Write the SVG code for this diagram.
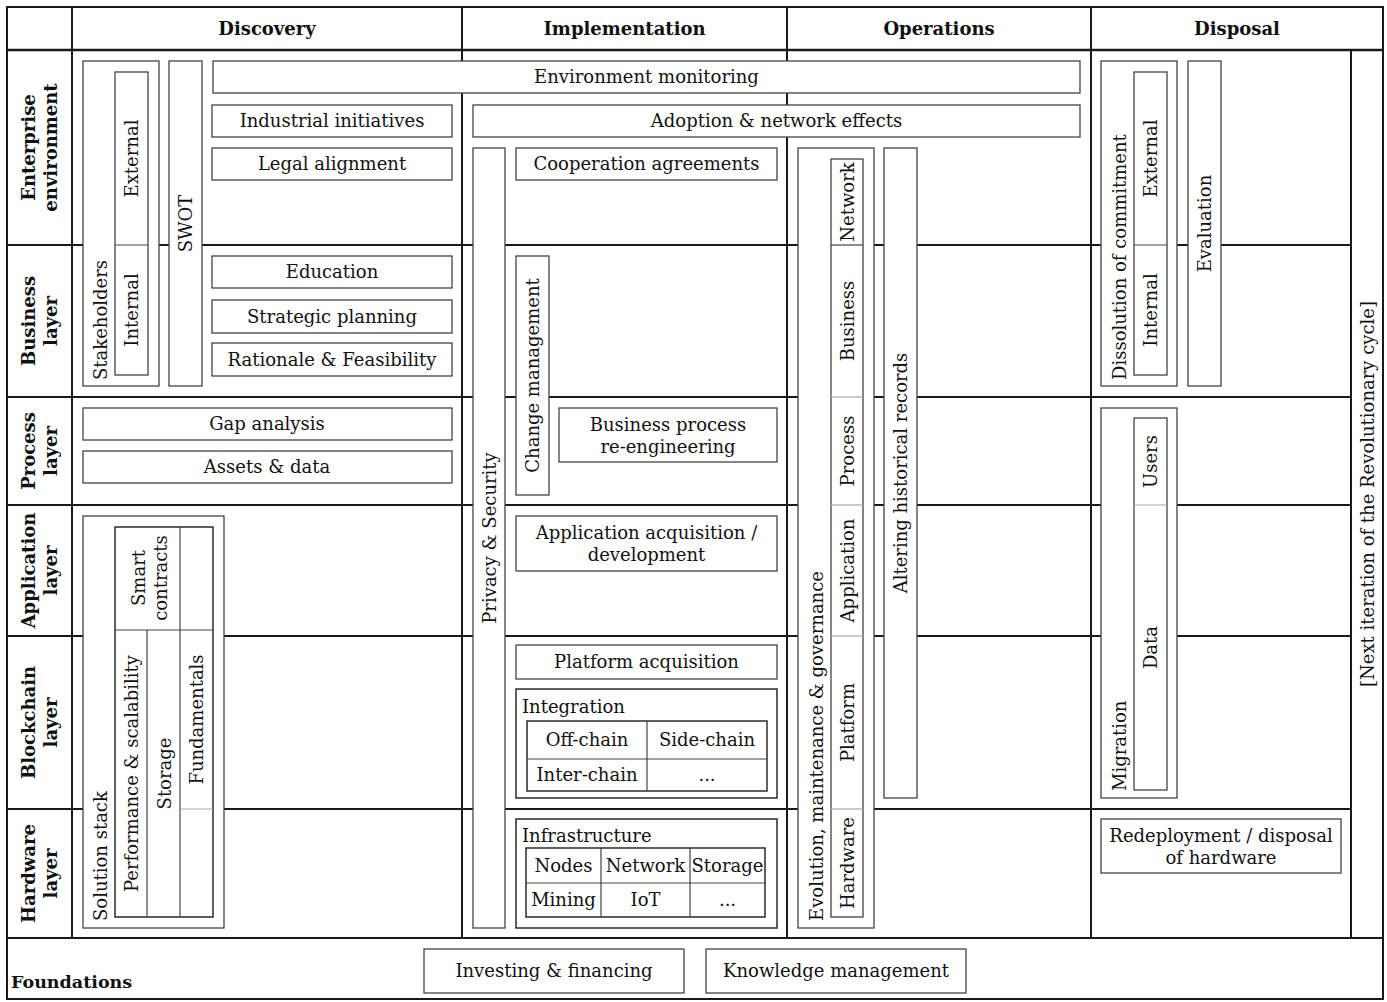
<svg xmlns="http://www.w3.org/2000/svg" width="1387" height="1002" viewBox="0 0 1387 1002">
<style>
.grid{stroke:#1a1a1a;stroke-width:2;fill:none}
.hd{stroke-width:2.6}
.box{fill:#fff;stroke:#444;stroke-width:1.3}
.dk{stroke:#2a2a2a;stroke-width:1.5}
.dv{stroke:#444;stroke-width:1.2}
.lt{stroke:#aaa;stroke-width:1.2}
text{font-family:"DejaVu Serif","Liberation Serif",serif;font-size:18px;fill:#111}
.b{font-weight:bold}
.h{font-weight:bold;font-size:18px}
.f{font-weight:bold;font-size:17.5px}
.c{text-anchor:middle}
</style>
<rect width="1387" height="1002" fill="#fff"/>
<g id="grid" class="grid">
<rect x="7" y="7" width="1376" height="992"/>
<line class="hd" x1="7" y1="50" x2="1383" y2="50"/>
<line x1="7" y1="245" x2="1351" y2="245"/>
<line x1="7" y1="397" x2="1351" y2="397"/>
<line x1="7" y1="505" x2="1351" y2="505"/>
<line x1="7" y1="636" x2="1351" y2="636"/>
<line x1="7" y1="809" x2="1351" y2="809"/>
<line x1="7" y1="938" x2="1383" y2="938"/>
<line x1="72" y1="7" x2="72" y2="938"/>
<line x1="462" y1="7" x2="462" y2="938"/>
<line x1="787" y1="7" x2="787" y2="938"/>
<line x1="1091" y1="7" x2="1091" y2="938"/>
<line x1="1351" y1="50" x2="1351" y2="938"/>
</g>
<g id="headers">
<text class="h c" x="267" y="35">Discovery</text>
<text class="h c" x="624.5" y="35">Implementation</text>
<text class="h c" x="939" y="35">Operations</text>
<text class="h c" x="1237" y="35">Disposal</text>
</g>
<g id="row-labels" class="b c">
<text transform="translate(35,147.5) rotate(-90)">Enterprise</text>
<text transform="translate(57,147.5) rotate(-90)">environment</text>
<text transform="translate(35,321) rotate(-90)">Business</text>
<text transform="translate(57,321) rotate(-90)">layer</text>
<text transform="translate(35,451) rotate(-90)">Process</text>
<text transform="translate(57,451) rotate(-90)">layer</text>
<text transform="translate(35,570.5) rotate(-90)">Application</text>
<text transform="translate(57,570.5) rotate(-90)">layer</text>
<text transform="translate(35,722.5) rotate(-90)">Blockchain</text>
<text transform="translate(57,722.5) rotate(-90)">layer</text>
<text transform="translate(35,873.5) rotate(-90)">Hardware</text>
<text transform="translate(57,873.5) rotate(-90)">layer</text>
</g>
<g id="foundations-label"><text class="f" x="11" y="988">Foundations</text></g>

<!-- Discovery -->
<g id="stakeholders">
<rect class="box" x="83" y="61" width="76" height="325"/>
<rect class="box" x="115" y="72" width="33" height="303"/>
<line class="dv" x1="115" y1="245" x2="148" y2="245"/>
<text transform="translate(107,380) rotate(-90)">Stakeholders</text>
<text class="c" transform="translate(138,158.5) rotate(-90)">External</text>
<text class="c" transform="translate(138,310) rotate(-90)">Internal</text>
</g>
<g id="swot">
<rect class="box" x="169" y="61" width="33" height="325"/>
<text class="c" transform="translate(192,223.5) rotate(-90)">SWOT</text>
</g>
<g id="environment-monitoring">
<rect class="box" x="213" y="61" width="867" height="32"/>
<text class="c" x="646.5" y="83">Environment monitoring</text>
</g>
<g id="industrial-initiatives">
<rect class="box" x="212" y="105" width="240" height="32"/>
<text class="c" x="332" y="127">Industrial initiatives</text>
</g>
<g id="legal-alignment">
<rect class="box" x="212" y="148" width="240" height="32"/>
<text class="c" x="332" y="170">Legal alignment</text>
</g>
<g id="education">
<rect class="box" x="212" y="256" width="240" height="32"/>
<text class="c" x="332" y="278">Education</text>
</g>
<g id="strategic-planning">
<rect class="box" x="212" y="300" width="240" height="33"/>
<text class="c" x="332" y="322.5">Strategic planning</text>
</g>
<g id="rationale-feasibility">
<rect class="box" x="212" y="343" width="240" height="33"/>
<text class="c" x="332" y="365.5">Rationale &amp; Feasibility</text>
</g>
<g id="gap-analysis">
<rect class="box" x="83" y="408" width="369" height="32"/>
<text class="c" x="267" y="430">Gap analysis</text>
</g>
<g id="assets-data">
<rect class="box" x="83" y="451" width="369" height="32"/>
<text class="c" x="267" y="473">Assets &amp; data</text>
</g>
<g id="solution-stack">
<rect class="box" x="83" y="516" width="141" height="412"/>
<rect class="box dk" x="115" y="527" width="98" height="390"/>
<line class="dv" x1="115" y1="630" x2="213" y2="630"/>
<line class="dv" x1="147" y1="630" x2="147" y2="917"/>
<line class="dv" x1="180" y1="527" x2="180" y2="917"/>
<line class="lt" x1="180" y1="809" x2="213" y2="809"/>
<text transform="translate(107,921) rotate(-90)">Solution stack</text>
<text class="c" transform="translate(145,578) rotate(-90)">Smart</text>
<text class="c" transform="translate(167,578) rotate(-90)">contracts</text>
<text class="c" transform="translate(138,773.5) rotate(-90)">Performance &amp; scalability</text>
<text class="c" transform="translate(170.5,773.5) rotate(-90)">Storage</text>
<text class="c" transform="translate(203,719.5) rotate(-90)">Fundamentals</text>
</g>

<!-- Implementation -->
<g id="adoption">
<rect class="box" x="473" y="105" width="607" height="32"/>
<text class="c" x="776.5" y="127">Adoption &amp; network effects</text>
</g>
<g id="privacy-security">
<rect class="box" x="473" y="148" width="32" height="780"/>
<text class="c" transform="translate(495.5,538) rotate(-90)">Privacy &amp; Security</text>
</g>
<g id="cooperation-agreements">
<rect class="box" x="516" y="148" width="261" height="32"/>
<text class="c" x="646.5" y="170">Cooperation agreements</text>
</g>
<g id="change-management">
<rect class="box" x="516" y="256" width="33" height="239"/>
<text class="c" transform="translate(539,375.5) rotate(-90)">Change management</text>
</g>
<g id="bpr">
<rect class="box" x="559" y="408" width="218" height="54"/>
<text class="c" x="668" y="431">Business process</text>
<text class="c" x="668" y="453">re-engineering</text>
</g>
<g id="application-acquisition">
<rect class="box" x="516" y="516" width="261" height="55"/>
<text class="c" x="646.5" y="539">Application acquisition /</text>
<text class="c" x="646.5" y="561">development</text>
</g>
<g id="platform-acquisition">
<rect class="box" x="516" y="645" width="261" height="34"/>
<text class="c" x="646.5" y="668">Platform acquisition</text>
</g>
<g id="integration">
<rect class="box dk" x="516" y="689" width="261" height="109"/>
<text x="522" y="713">Integration</text>
<rect class="box dk" x="527" y="721" width="240" height="70"/>
<line class="dv" x1="527" y1="759" x2="767" y2="759"/>
<line class="dv" x1="647" y1="721" x2="647" y2="791"/>
<text class="c" x="587" y="746">Off-chain</text>
<text class="c" x="707" y="746">Side-chain</text>
<text class="c" x="587" y="781">Inter-chain</text>
<text class="c" x="707" y="781">...</text>
</g>
<g id="infrastructure">
<rect class="box dk" x="516" y="819" width="261" height="109"/>
<text x="522" y="842">Infrastructure</text>
<rect class="box dk" x="526" y="848" width="239" height="69"/>
<line class="dv" x1="526" y1="883" x2="765" y2="883"/>
<line class="dv" x1="601" y1="848" x2="601" y2="917"/>
<line class="dv" x1="690" y1="848" x2="690" y2="917"/>
<text class="c" x="563.5" y="871.5">Nodes</text>
<text class="c" x="645.5" y="871.5">Network</text>
<text class="c" x="727.5" y="871.5">Storage</text>
<text class="c" x="563.5" y="906">Mining</text>
<text class="c" x="645.5" y="906">IoT</text>
<text class="c" x="727.5" y="906">...</text>
</g>

<!-- Operations -->
<g id="evolution">
<rect class="box" x="798" y="148" width="76" height="780"/>
<rect class="box" x="831" y="159" width="32" height="758"/>
<line class="dv" x1="831" y1="245" x2="863" y2="245"/>
<line class="lt" x1="831" y1="397" x2="863" y2="397"/>
<line class="lt" x1="831" y1="505" x2="863" y2="505"/>
<line class="lt" x1="831" y1="636" x2="863" y2="636"/>
<line class="lt" x1="831" y1="809" x2="863" y2="809"/>
<text transform="translate(822.5,921) rotate(-90)">Evolution, maintenance &amp; governance</text>
<text class="c" transform="translate(853.5,202) rotate(-90)">Network</text>
<text class="c" transform="translate(853.5,321) rotate(-90)">Business</text>
<text class="c" transform="translate(853.5,451) rotate(-90)">Process</text>
<text class="c" transform="translate(853.5,570.5) rotate(-90)">Application</text>
<text class="c" transform="translate(853.5,722.5) rotate(-90)">Platform</text>
<text class="c" transform="translate(853.5,863) rotate(-90)">Hardware</text>
</g>
<g id="altering-records">
<rect class="box" x="884" y="148" width="33" height="650"/>
<text class="c" transform="translate(907,473) rotate(-90)">Altering historical records</text>
</g>

<!-- Disposal -->
<g id="dissolution">
<rect class="box" x="1101" y="61" width="76" height="325"/>
<rect class="box" x="1134" y="72" width="33" height="303"/>
<line class="dv" x1="1134" y1="245" x2="1167" y2="245"/>
<text transform="translate(1125.5,380) rotate(-90)">Dissolution of commitment</text>
<text class="c" transform="translate(1157,158.5) rotate(-90)">External</text>
<text class="c" transform="translate(1157,310) rotate(-90)">Internal</text>
</g>
<g id="evaluation">
<rect class="box" x="1188" y="61" width="33" height="325"/>
<text class="c" transform="translate(1211,223.5) rotate(-90)">Evaluation</text>
</g>
<g id="migration">
<rect class="box" x="1101" y="408" width="76" height="390"/>
<rect class="box" x="1134" y="418" width="33" height="372"/>
<line class="lt" x1="1134" y1="505" x2="1167" y2="505"/>
<text transform="translate(1125.5,791) rotate(-90)">Migration</text>
<text class="c" transform="translate(1157,461.5) rotate(-90)">Users</text>
<text class="c" transform="translate(1157,647.5) rotate(-90)">Data</text>
</g>
<g id="redeployment">
<rect class="box" x="1101" y="819" width="240" height="54"/>
<text class="c" x="1221" y="842">Redeployment / disposal</text>
<text class="c" x="1221" y="864">of hardware</text>
</g>
<g id="next-iteration">
<text class="c" transform="translate(1373.5,494) rotate(-90)">[Next iteration of the Revolutionary cycle]</text>
</g>

<!-- Foundations -->
<g id="investing-financing">
<rect class="box" x="424" y="949" width="260" height="44"/>
<text class="c" x="554" y="977">Investing &amp; financing</text>
</g>
<g id="knowledge-management">
<rect class="box" x="706" y="949" width="260" height="44"/>
<text class="c" x="836" y="977">Knowledge management</text>
</g>
</svg>
